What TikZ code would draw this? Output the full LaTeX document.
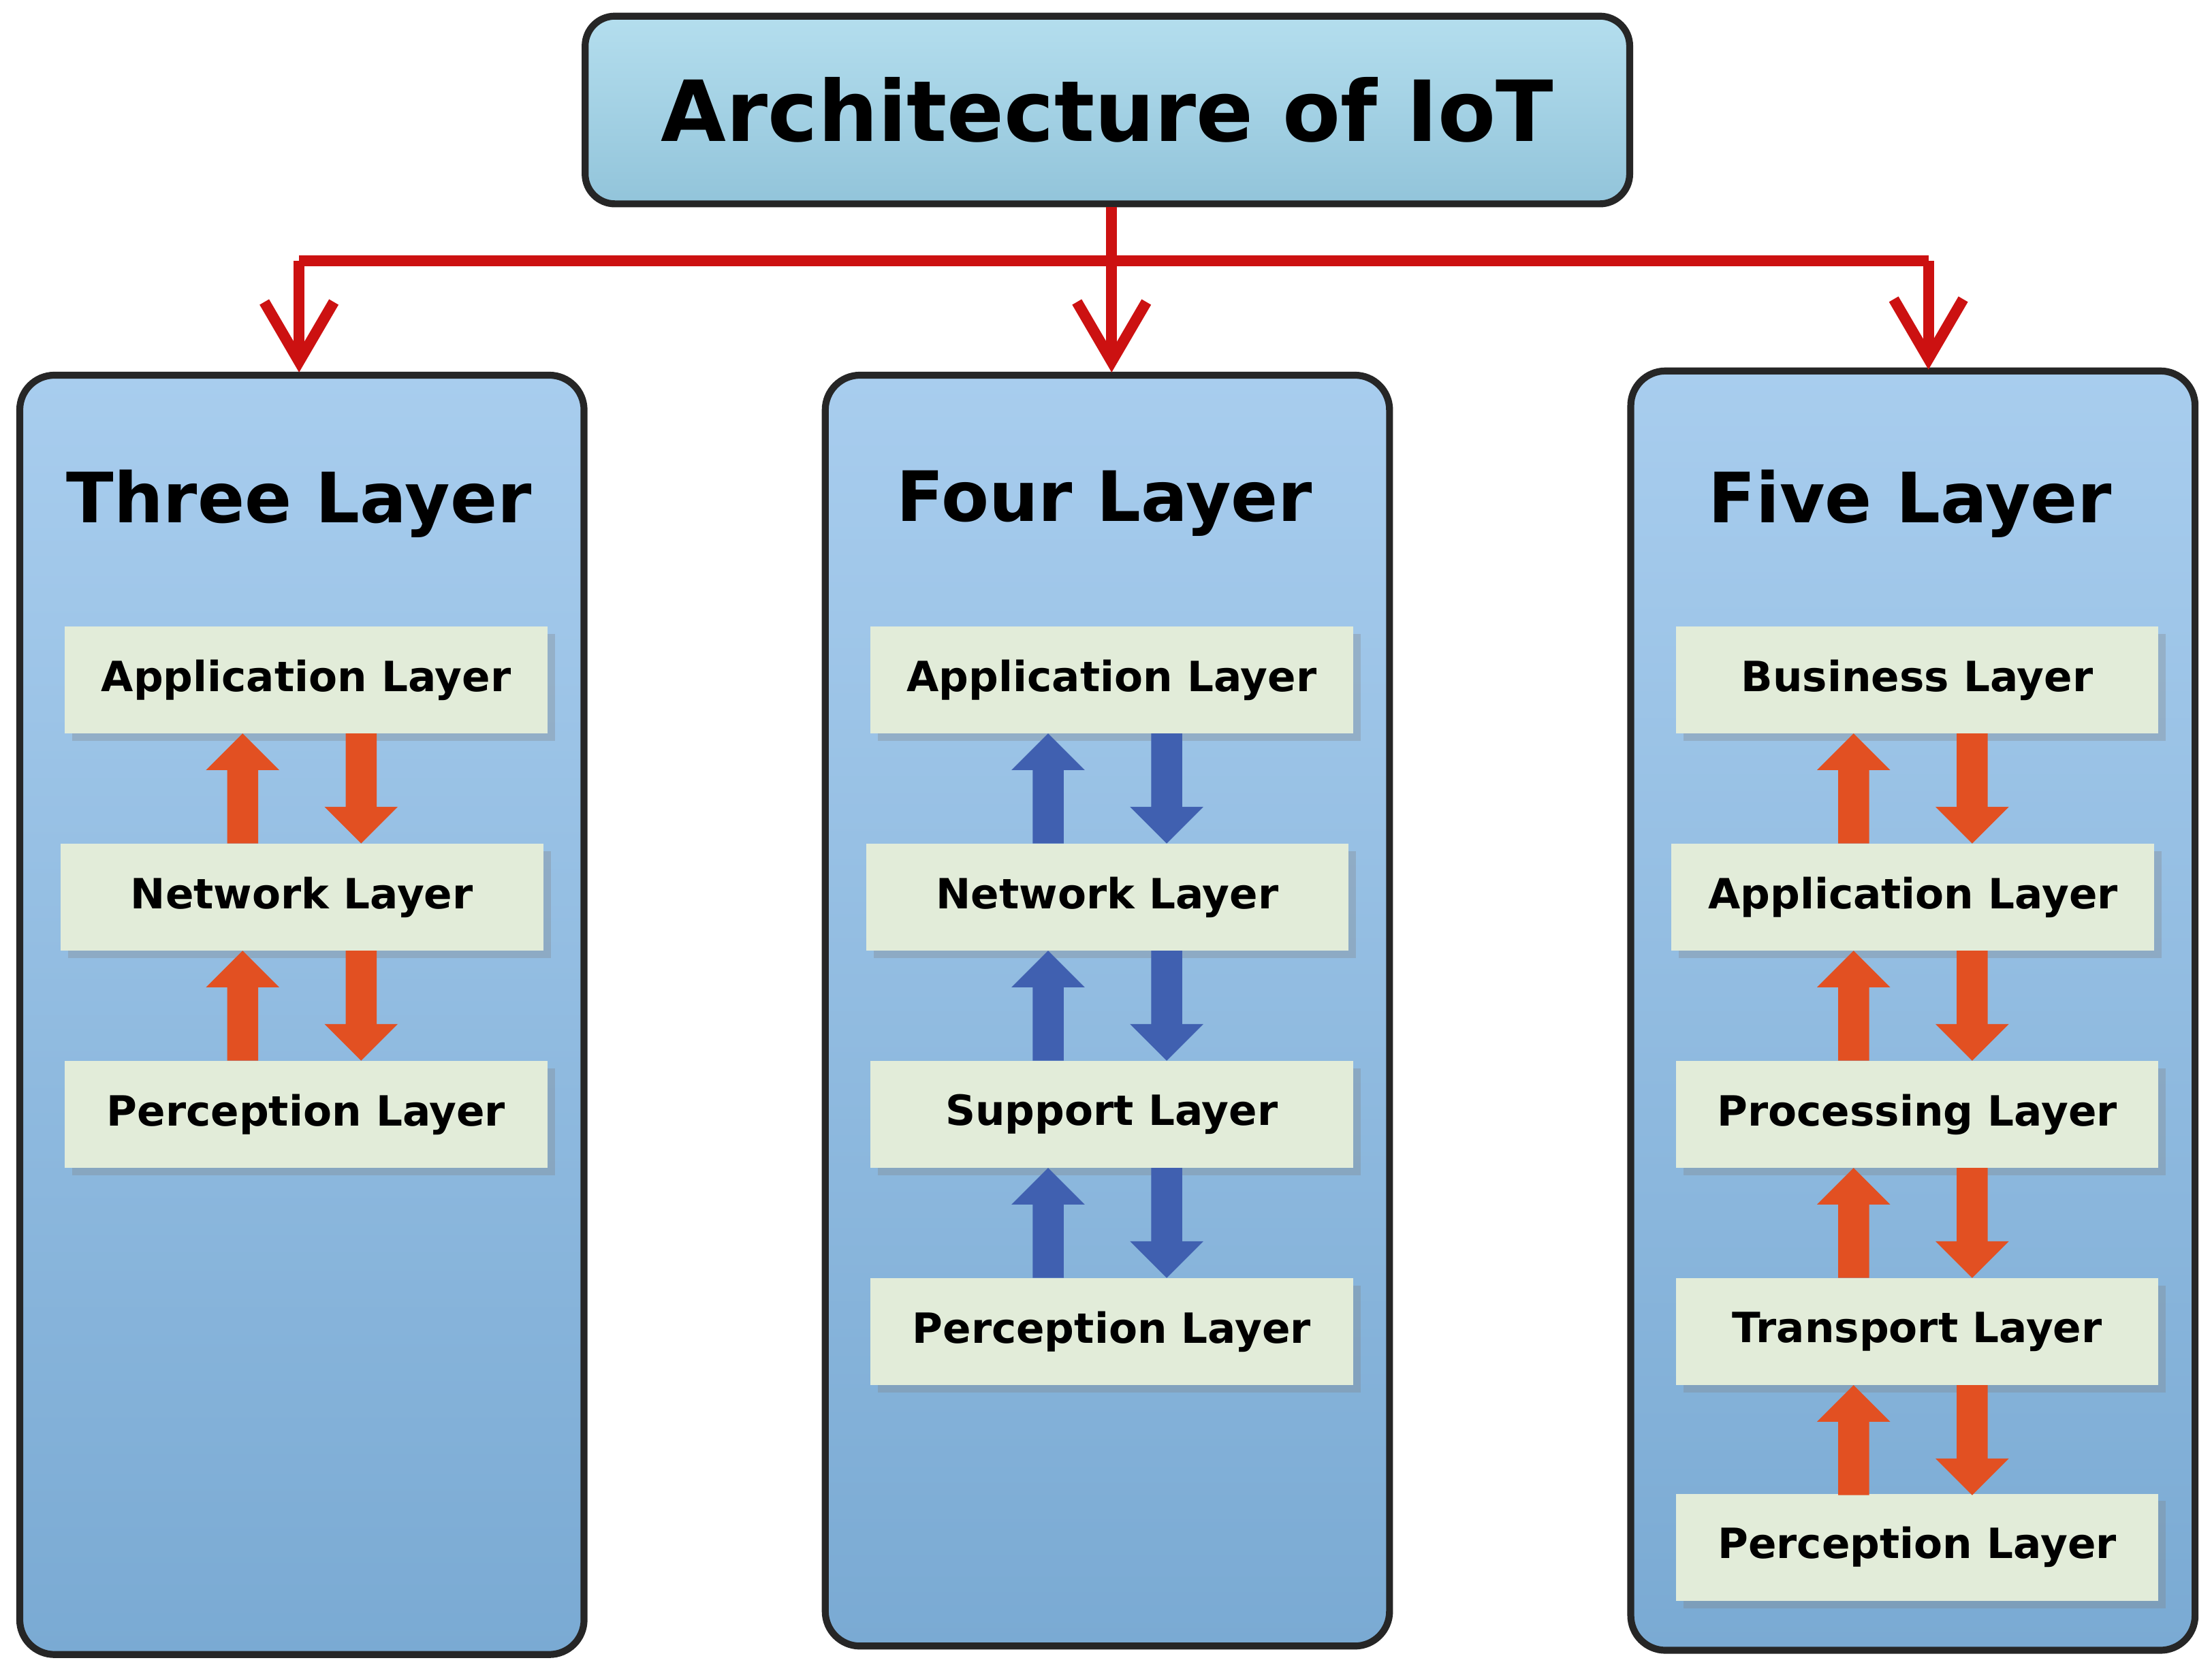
\documentclass[tikz,border=0pt]{standalone}
\usepackage{fontspec}
\setmainfont{DejaVu Sans}
\usetikzlibrary{shapes.arrows,arrows.meta,shadows}
\begin{document}
\begin{tikzpicture}[x=0.01cm,y=-0.01cm,
  title/.style={draw=black!85,line width=1.4pt,rounded corners=6pt,top color={rgb,255:red,180;green,222;blue,238},bottom color={rgb,255:red,146;green,196;blue,218}},
  panel/.style={draw=black!85,line width=1.4pt,rounded corners=7pt,top color={rgb,255:red,168;green,205;blue,238},bottom color={rgb,255:red,122;green,170;blue,211}},
  layer/.style={fill={rgb,255:red,226;green,236;blue,217},minimum width=3.42cm,minimum height=0.76cm,inner sep=0,font=\bfseries\fontsize{8.4}{10}\selectfont,drop shadow={shadow xshift=1.5pt,shadow yshift=-1.5pt,opacity=0.3}},
  ptitle/.style={font=\bfseries\fontsize{14}{17}\selectfont},
  conn/.style={draw={rgb,255:red,204;green,17;blue,17},line width=2.2pt},
  arr/.style={-{Straight Barb[length=12pt,width=14pt,line width=2.2pt]}},
]
\useasboundingbox (0,0) rectangle (1568,1183);
\definecolor{orng}{RGB}{226,80,34}
\definecolor{blu}{RGB}{64,96,176}
\node[title,minimum width=7.40cm,minimum height=1.33cm,font=\bfseries\fontsize{17}{21}\selectfont] (T) at (785,78) {Architecture of IoT};
\draw[panel] (14,266) rectangle (414,1173);
\draw[panel] (585,266) rectangle (985,1167);
\draw[panel] (1156,263) rectangle (1556,1170);
\coordinate (J) at (788,185);
\coordinate (L) at (212,185);
\coordinate (R) at (1367,185);
\coordinate (La) at (212,264);
\coordinate (Ma) at (788,264);
\coordinate (Ra) at (1367,262);
\draw[conn] (T.south -| J) -- (J);
\draw[conn] (L) -- (R);
\draw[conn,arr] (L) -- (La);
\draw[conn,arr] (J) -- (Ma);
\draw[conn,arr] (R) -- (Ra);
\node[ptitle] (t3) at (212,357) {Three Layer};
\node[ptitle] (t4) at (783,357) {Four Layer};
\node[ptitle] (t5) at (1354,357) {Five Layer};
% left
\node[layer] (a1) at (217,482) {Application Layer};
\node[layer] (a2) at (214,636) {Network Layer};
\node[layer] (a3) at (217,790) {Perception Layer};
% middle
\node[layer] (b1) at (788,482) {Application Layer};
\node[layer] (b2) at (785,636) {Network Layer};
\node[layer] (b3) at (788,790) {Support Layer};
\node[layer] (b4) at (788,944) {Perception Layer};
% right
\node[layer] (c1) at (1359,482) {Business Layer};
\node[layer] (c2) at (1356,636) {Application Layer};
\node[layer] (c3) at (1359,790) {Processing Layer};
\node[layer] (c4) at (1359,944) {Transport Layer};
\node[layer] (c5) at (1359,1097) {Perception Layer};
% block arrows
\newcommand{\upar}[4]{\fill[#4] (#1-11,#3) -- (#1-11,#2+26) -- (#1-26,#2+26) -- (#1,#2) -- (#1+26,#2+26) -- (#1+11,#2+26) -- (#1+11,#3) -- cycle;}
\newcommand{\dnar}[4]{\fill[#4] (#1-11,#2) -- (#1-11,#3-26) -- (#1-26,#3-26) -- (#1,#3) -- (#1+26,#3-26) -- (#1+11,#3-26) -- (#1+11,#2) -- cycle;}
\foreach \y in {520,674}{
  \upar{172}{\y}{\y+78}{orng}\dnar{256}{\y}{\y+78}{orng}}
\foreach \y in {520,674,828}{
  \upar{743}{\y}{\y+78}{blu}\dnar{827}{\y}{\y+78}{blu}}
\foreach \y in {520,674,828,982}{
  \upar{1314}{\y}{\y+78}{orng}\dnar{1398}{\y}{\y+78}{orng}}
\end{tikzpicture}
\end{document}
